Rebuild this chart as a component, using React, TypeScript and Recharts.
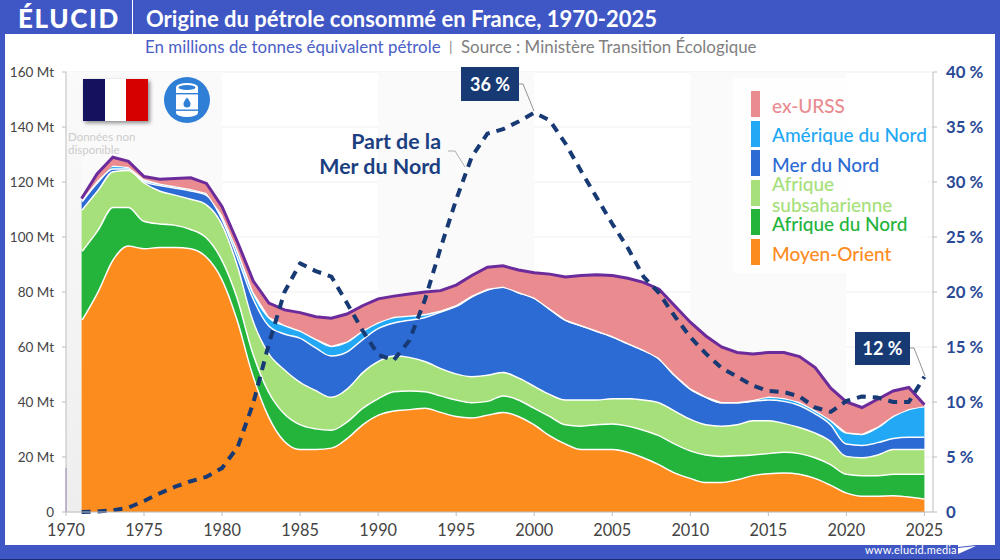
import React from "react";
import { ComposedChart, Area, Line, XAxis, YAxis, CartesianGrid, ReferenceArea, ReferenceLine } from "recharts";

const FONT = "Lato, 'Open Sans', sans-serif";

const years = [1971,1972,1973,1974,1975,1976,1977,1978,1979,1980,1981,1982,1983,1984,1985,1986,1987,1988,1989,1990,1991,1992,1993,1994,1995,1996,1997,1998,1999,2000,2001,2002,2003,2004,2005,2006,2007,2008,2009,2010,2011,2012,2013,2014,2015,2016,2017,2018,2019,2020,2021,2022,2023,2024,2025];

// Upper edge of each band (Mt)
const topMoyenOrient = [70,80,92,97,96,96.5,96.5,96,93,85,70,50,35,26,23,23,23.5,27,32,35.5,37,37.5,38,36.5,35,34.5,35.5,36.5,35,32,28,25,23,23,23,22,20,17.5,14.5,12.5,11,11,12,13.5,14.2,14.5,14,12.5,10,7.2,6,6,6.2,5.7,5];
const topAfriqueNord = [95,102.5,111,111,106,105,104.5,103,100,92,78,58,44,36,32,30.5,30,33,38,41.5,44,44.3,44,42.5,41,40,40.5,42.5,41,38,35,32,31.5,32,32.3,31.5,30,28,25,22.5,21,20.5,20.7,21,21.5,22,21.5,20,17.5,14,13.5,13.5,14,14,14];
const topSubsaharienne = [110,117,124,124.5,120,117,115.5,114,112,105,90,70,58,52,47.5,44.5,42,45,51,55,57,56.5,55,52.5,50.5,49.5,50,51,49,46,43,41,41,41,41.5,41.5,41,40,37,34,32,31.5,32,33.5,33.5,32.5,31,29,26,20.5,20,21,23,23,23];
const topMerDuNord = [113,120,125,125,120.5,119,118,117,115.5,107,93,78,68,65,63.5,60,57,58.5,63,67,69,70,71,73,75,78.5,81,82,80,78,74,70,68,66,64,61.5,59,56,50,45,42,40,40,40.5,41,40.5,39,36,32,25,24.5,25.5,27,27.5,27.5];
const topAmeriqueNord = [113.5,120.5,126,125.5,121,119.5,118.5,117.5,116,108,95,80,71,68,66,63,60.5,62,66,69,71,71.5,72,73.3,75.3,78.7,81.2,82,80,78,74,70,68,66,64,61.5,59,56,50,45,42,40,40,40.7,42,41.5,40,37,33.5,29,28.5,31,35,37.5,38.5];
const topExUrss = [114,123,129,127.5,122,121,121.3,121.5,119.5,111,98,84,76,73.5,72.5,71,70.5,72,75,77.5,78.5,79.3,80,80.5,82.5,86,89,89.5,88,87,86.5,85.5,86,86.3,86,85,83.5,81,75,69,64,60,58,57.5,58,58,56.5,52.5,45,40,38,41,44,45.3,39];
const partMerDuNord = [0,0.05,0.15,0.4,1,1.7,2.3,2.8,3.2,4,5.9,9.9,15.3,20,22.6,21.9,21.4,19,16.5,14.3,13.8,15.6,19.3,24,28.4,32.3,34.4,34.8,35.5,36.3,35.6,33.5,31,28.6,26.2,24,21.4,19.9,17.8,15.9,14.4,13.1,12.3,11.5,11,10.9,10.5,9.5,9.1,10.1,10.5,10.4,10,10,12.3];

const xTicks = [1970,1975,1980,1985,1990,1995,2000,2005,2010,2015,2020,2025];
const leftTicks = [0,20,40,60,80,100,120,140,160];
const rightTicks = [0,5,10,15,20,25,30,35,40];
const bands: [number, number][] = [[1970,1980],[1990,2000],[2010,2020]];

const legendItems = [
  { label: "ex-URSS", color: "#e98b8f" },
  { label: "Amérique du Nord", color: "#22a8f5" },
  { label: "Mer du Nord", color: "#2b6bd3" },
  { label: "Afrique subsaharienne", color: "#a6e07a" },
  { label: "Afrique du Nord", color: "#24b43c" },
  { label: "Moyen-Orient", color: "#fd8c1f" },
];

const table = years.map((year, i) => ({
  year,
  moyenOrient: topMoyenOrient[i],
  afriqueNord: topAfriqueNord[i] - topMoyenOrient[i],
  subsaharienne: topSubsaharienne[i] - topAfriqueNord[i],
  merDuNord: topMerDuNord[i] - topSubsaharienne[i],
  ameriqueNord: topAmeriqueNord[i] - topMerDuNord[i],
  exUrss: topExUrss[i] - topAmeriqueNord[i],
  total: topExUrss[i],
  part: partMerDuNord[i],
}));

const NAVY = "#173a75";

const abs = (left: number, top: number, extra: React.CSSProperties = {}): React.CSSProperties => ({
  position: "absolute", left, top, fontFamily: FONT, whiteSpace: "nowrap", ...extra,
});

const WHITE_EDGE = 3;

export default function App() {
  return (
    <div style={{ position: "absolute", left: 0, top: 0, width: 1000, height: 560, overflow: "hidden", background: "#3f57c4" }}>
      <div style={{ position: "absolute", left: 5, top: 34, width: 990, height: 511, background: "#fff" }} />
      <div style={{ position: "absolute", left: 0, top: 559, width: 1000, height: 1, background: "#1c2c70" }} />

      <div style={abs(18, 2, { color: "#fff", fontSize: 26, fontWeight: 900, letterSpacing: 1.6, lineHeight: "32px" })}>ÉLUCID</div>
      <div style={{ position: "absolute", left: 132, top: 0, width: 1, height: 34, background: "#fff" }} />
      <div style={abs(146, 5, { color: "#fff", fontSize: 22, fontWeight: 700, lineHeight: "28px" })}>Origine du pétrole consommé en France, 1970-2025</div>
      <div style={abs(145, 37, { color: "#4a60c6", fontSize: 16.9, lineHeight: "20px" })}>En millions de tonnes équivalent pétrole</div>
      <div style={abs(449, 37, { color: "#888", fontSize: 14, lineHeight: "20px" })}>|</div>
      <div style={abs(461, 37, { color: "#808080", fontSize: 16.9, lineHeight: "20px" })}>Source : Ministère Transition Écologique</div>

      <div style={{ position: "absolute", left: 0, top: 0 }}>
        <ComposedChart width={1000} height={560} data={table} margin={{ top: 72, right: 0, bottom: 0, left: 0 }}>
          <defs>
            <linearGradient id="noData" x1="0" y1="0" x2="0" y2="1">
              <stop offset="0%" stopColor="#fafafa" />
              <stop offset="45%" stopColor="#f5f5f5" />
              <stop offset="100%" stopColor="#eeeeee" />
            </linearGradient>
          </defs>
          {bands.map(([a, b]) => (
            <ReferenceArea key={a} yAxisId="mt" x1={a} x2={b} y1={0} y2={160} fill="#fafafa" fillOpacity={1} stroke="none" />
          ))}
          <ReferenceArea yAxisId="mt" x1={1970} x2={1971} y1={0} y2={160} fill="url(#noData)" fillOpacity={1} stroke="none" />
          <CartesianGrid horizontal vertical={false} stroke="#efefef" yAxisId="mt" />
          <XAxis
            dataKey="year" type="number" domain={[1970, 2025.55]} ticks={xTicks} allowDataOverflow
            height={48} tickSize={4} tickMargin={8} stroke="#bdbdbd"
            tick={{ fill: "#444", fontSize: 16.3, fontFamily: FONT }} interval={0}
          />
          <YAxis
            yAxisId="mt" orientation="left" width={66} domain={[0, 160]} ticks={leftTicks}
            tickFormatter={(v: number) => (v === 0 ? "0" : `${v} Mt`)} tickSize={4} tickMargin={8} stroke="#bdbdbd"
            tick={{ fill: "#444", fontSize: 13.5, fontFamily: FONT }} interval={0}
          />
          <YAxis
            yAxisId="pct" orientation="right" width={67} domain={[0, 40]} ticks={rightTicks}
            tickFormatter={(v: number) => (v === 0 ? "0" : `${v} %`)} tickSize={4} tickMargin={9} stroke="#bdbdbd"
            tick={{ fill: "#2a4a96", fontSize: 16.8, fontWeight: 700, fontFamily: FONT }} interval={0}
          />
          <ReferenceLine yAxisId="mt" segment={[{ x: 1970, y: 0 }, { x: 1970, y: 16 }]} stroke="#8a5ab0" strokeWidth={1} ifOverflow="visible" />
          <Area yAxisId="mt" stackId="s" type="monotone" dataKey="moyenOrient" fill="#fd8c1f" fillOpacity={1} stroke="#fff" strokeWidth={WHITE_EDGE} isAnimationActive={false} />
          <Area yAxisId="mt" stackId="s" type="monotone" dataKey="afriqueNord" fill="#24b43c" fillOpacity={1} stroke="#fff" strokeWidth={WHITE_EDGE} isAnimationActive={false} />
          <Area yAxisId="mt" stackId="s" type="monotone" dataKey="subsaharienne" fill="#a6e07a" fillOpacity={1} stroke="#fff" strokeWidth={WHITE_EDGE} isAnimationActive={false} />
          <Area yAxisId="mt" stackId="s" type="monotone" dataKey="merDuNord" fill="#2b6bd3" fillOpacity={1} stroke="#fff" strokeWidth={WHITE_EDGE} isAnimationActive={false} />
          <Area yAxisId="mt" stackId="s" type="monotone" dataKey="ameriqueNord" fill="#22a8f5" fillOpacity={1} stroke="#fff" strokeWidth={WHITE_EDGE} isAnimationActive={false} />
          <Area yAxisId="mt" stackId="s" type="linear" dataKey="exUrss" fill="#e98b8f" fillOpacity={1} stroke="none" isAnimationActive={false} />
          <Line yAxisId="mt" type="linear" dataKey="total" stroke="#6c2b9b" strokeWidth={3} dot={false} isAnimationActive={false} />
          <Line yAxisId="pct" type="linear" dataKey="part" stroke={NAVY} strokeWidth={4} strokeDasharray="9 7" strokeLinejoin="round" dot={false} isAnimationActive={false} />
        </ComposedChart>
      </div>

      {/* Legend */}
      <div style={{ position: "absolute", left: 733, top: 78, width: 194, height: 195, background: "rgba(255,255,255,0.8)" }} />
      {legendItems.map((it, i) => (
        <React.Fragment key={it.label}>
          <div style={{ position: "absolute", left: 751, top: 91 + i * 29.6, width: 9, height: 26, background: it.color }} />
          <div style={abs(772, 92 + i * 29.6, {
            width: 160, color: it.color, fontSize: 19, fontWeight: 500, lineHeight: "21px", whiteSpace: "normal",
            height: 26, display: "flex", alignItems: "center",
          })}>{it.label}</div>
        </React.Fragment>
      ))}

      {/* Flag */}
      <div style={{ position: "absolute", left: 83, top: 79, width: 65, height: 42, display: "flex", boxShadow: "2px 2px 4px rgba(0,0,0,0.45)" }}>
        <div style={{ flex: 1, background: "#14125e" }} />
        <div style={{ flex: 1, background: "#fff" }} />
        <div style={{ flex: 1, background: "#d60000" }} />
      </div>
      {/* Barrel icon */}
      <svg style={{ position: "absolute", left: 160, top: 73 }} width={54} height={54}>
        <circle cx={27} cy={27} r={23} fill="#2f7fd6" />
        <path d="M16 14 A11 4 0 0 1 38 14 L38 40 A11 4 0 0 1 16 40 Z" fill="#fff" />
        <ellipse cx={27} cy={14.5} rx={8.5} ry={2.4} fill="#2f7fd6" />
        <rect x={16} y={36.5} width={22} height={1.4} fill="#2f7fd6" />
        <rect x={16} y={20} width={22} height={1.4} fill="#2f7fd6" />
        <path d="M27 24.5 C 24 28.5 23.5 29.5 23.5 31 A 3.5 3.5 0 0 0 30.5 31 C 30.5 29.5 30 28.5 27 24.5 Z" fill="#2f7fd6" />
      </svg>

      <div style={abs(68, 130, { color: "#cccccc", fontSize: 11.5, lineHeight: "13px" })}>Données non<br />disponible</div>

      {/* Annotations */}
      <svg style={{ position: "absolute", left: 0, top: 0 }} width={1000} height={560}>
        <polyline points="448,151 455,151 465,167" fill="none" stroke="#9a9a9a" strokeWidth={0.8} />
        <polyline points="519,84 523,84 534,111" fill="none" stroke="#777" strokeWidth={0.8} />
        <polyline points="910,348 914,348 925,376" fill="none" stroke="#777" strokeWidth={0.8} />
      </svg>
      <div style={abs(461, 67, { width: 58, height: 34, background: NAVY, color: "#fff", fontSize: 18, fontWeight: 700, lineHeight: "34px", textAlign: "center" })}>36 %</div>
      <div style={abs(855, 332, { width: 55, height: 33, background: NAVY, color: "#fff", fontSize: 18, fontWeight: 700, lineHeight: "33px", textAlign: "center" })}>12 %</div>
      <div style={abs(290, 129, { width: 151, color: "#1b3f80", fontSize: 21.4, fontWeight: 700, lineHeight: "25px", textAlign: "right" })}>Part de la<br />Mer du Nord</div>

      {/* Footer */}
      <div style={abs(865, 543, { color: "#fff", fontSize: 11, lineHeight: "14px", letterSpacing: 0.2 })}>www.elucid.media</div>
      <svg style={{ position: "absolute", left: 957, top: 537 }} width={20} height={18}>
        <path d="M1 7 L19 1 L19 8 L1 10 Z M1 11 L19 9 L1 17 Z" fill="#fff" />
      </svg>
    </div>
  );
}
